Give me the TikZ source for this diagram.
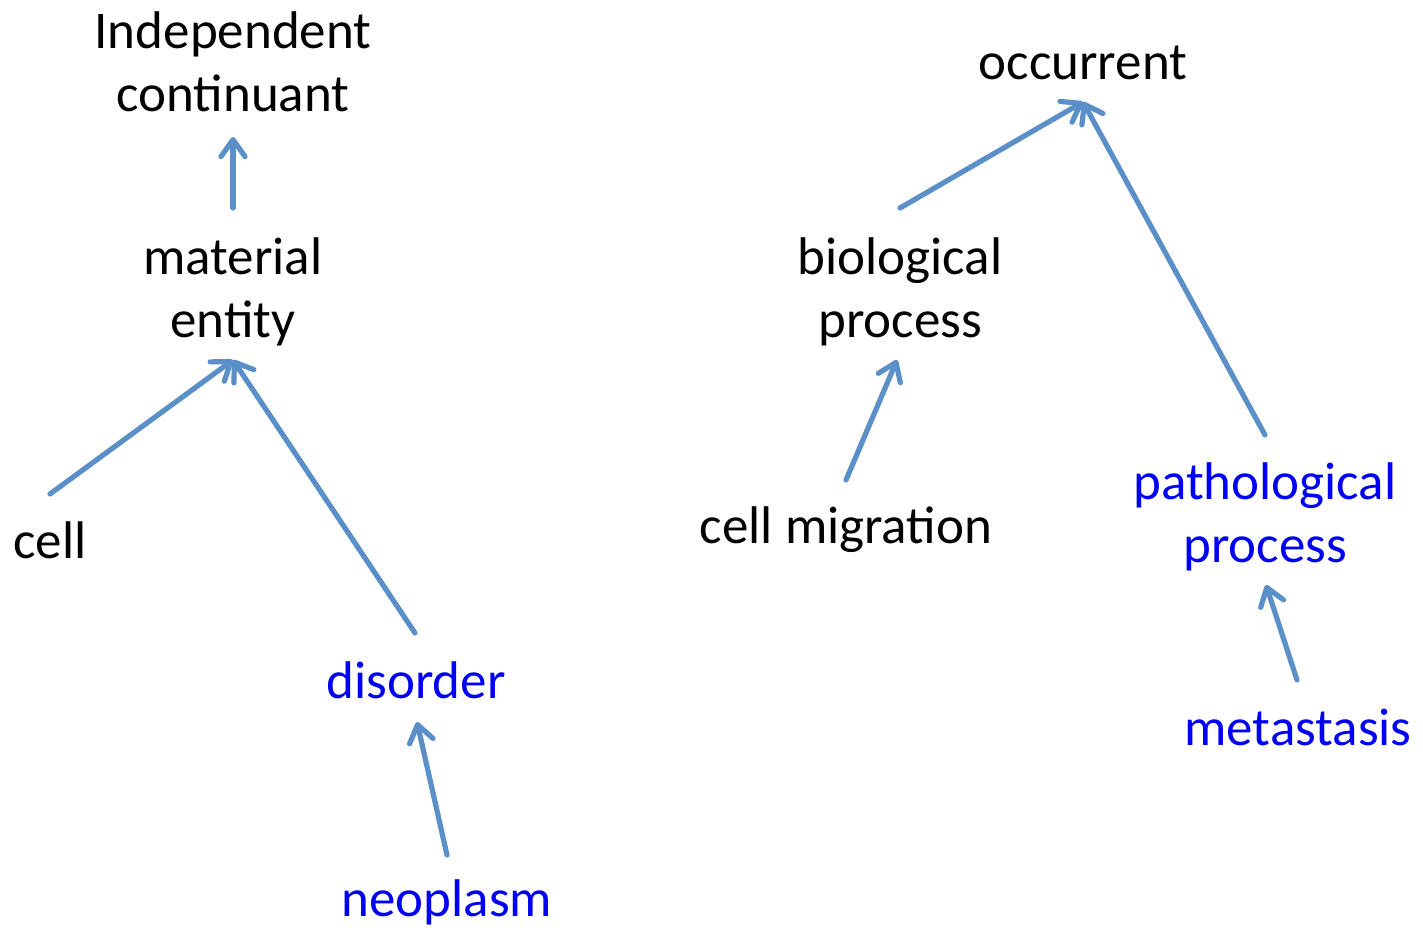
\documentclass[tikz,border=0pt]{standalone}
\usepackage{fontspec}
\setmainfont{Carlito}
\usetikzlibrary{arrows.meta}
\definecolor{arrowblue}{RGB}{91,143,200}
\definecolor{termblue}{RGB}{0,0,245}
\tikzset{
  term/.style={inner sep=0pt, anchor=base, align=center, font=\fontsize{53}{63}\selectfont},
  newterm/.style={term, text=termblue},
  isa/.style={draw=arrowblue, line width=5.2pt, line cap=round,
    -{Straight Barb[length=17pt,width=24pt,line cap=round,line join=round]}}
}
\begin{document}
\begin{tikzpicture}[x=1pt,y=-1pt]
\useasboundingbox (0,0) rectangle (1423,928);
% nodes (anchor = baseline of last line)
\node[term] (ic) at (233,112) {Independent\\continuant};
\node[term] (me) at (233,337) {material\\entity};
\node[term] (cell) at (50,558) {cell};
\node[newterm] (dis) at (416,698) {disorder};
\node[newterm] (neo) at (447,916) {neoplasm};
\node[term] (occ) at (1083,80) {occurrent};
\node[term] (bp) at (900,337) {biological\\process};
\node[term] (cm) at (846,543) {cell migration};
\node[newterm] (pp) at (1265,562) {pathological\\process};
\node[newterm] (met) at (1298,745) {metastasis};
% connector end points
\coordinate (me-t) at (233,208);  \coordinate (ic-b) at (233,137);
\coordinate (cell-t) at (50,494); \coordinate (me-b) at (233,360);
\coordinate (dis-t) at (415,633);
\coordinate (neo-t) at (447,855); \coordinate (dis-b) at (417,722);
\coordinate (bp-t) at (900,208);  \coordinate (occ-b) at (1083,102);
\coordinate (pp-t) at (1265,435);
\coordinate (cm-t) at (846,480);  \coordinate (bp-b) at (897,360);
\coordinate (met-t) at (1297,680); \coordinate (pp-b) at (1266,585);
% connectors
\draw[isa] (me-t) -- (ic-b);
\draw[isa] (cell-t) -- (me-b);
\draw[isa] (dis-t) -- (me-b);
\draw[isa] (neo-t) -- (dis-b);
\draw[isa] (bp-t) -- (occ-b);
\draw[isa] (pp-t) -- (occ-b);
\draw[isa] (cm-t) -- (bp-b);
\draw[isa] (met-t) -- (pp-b);
\end{tikzpicture}
\end{document}
